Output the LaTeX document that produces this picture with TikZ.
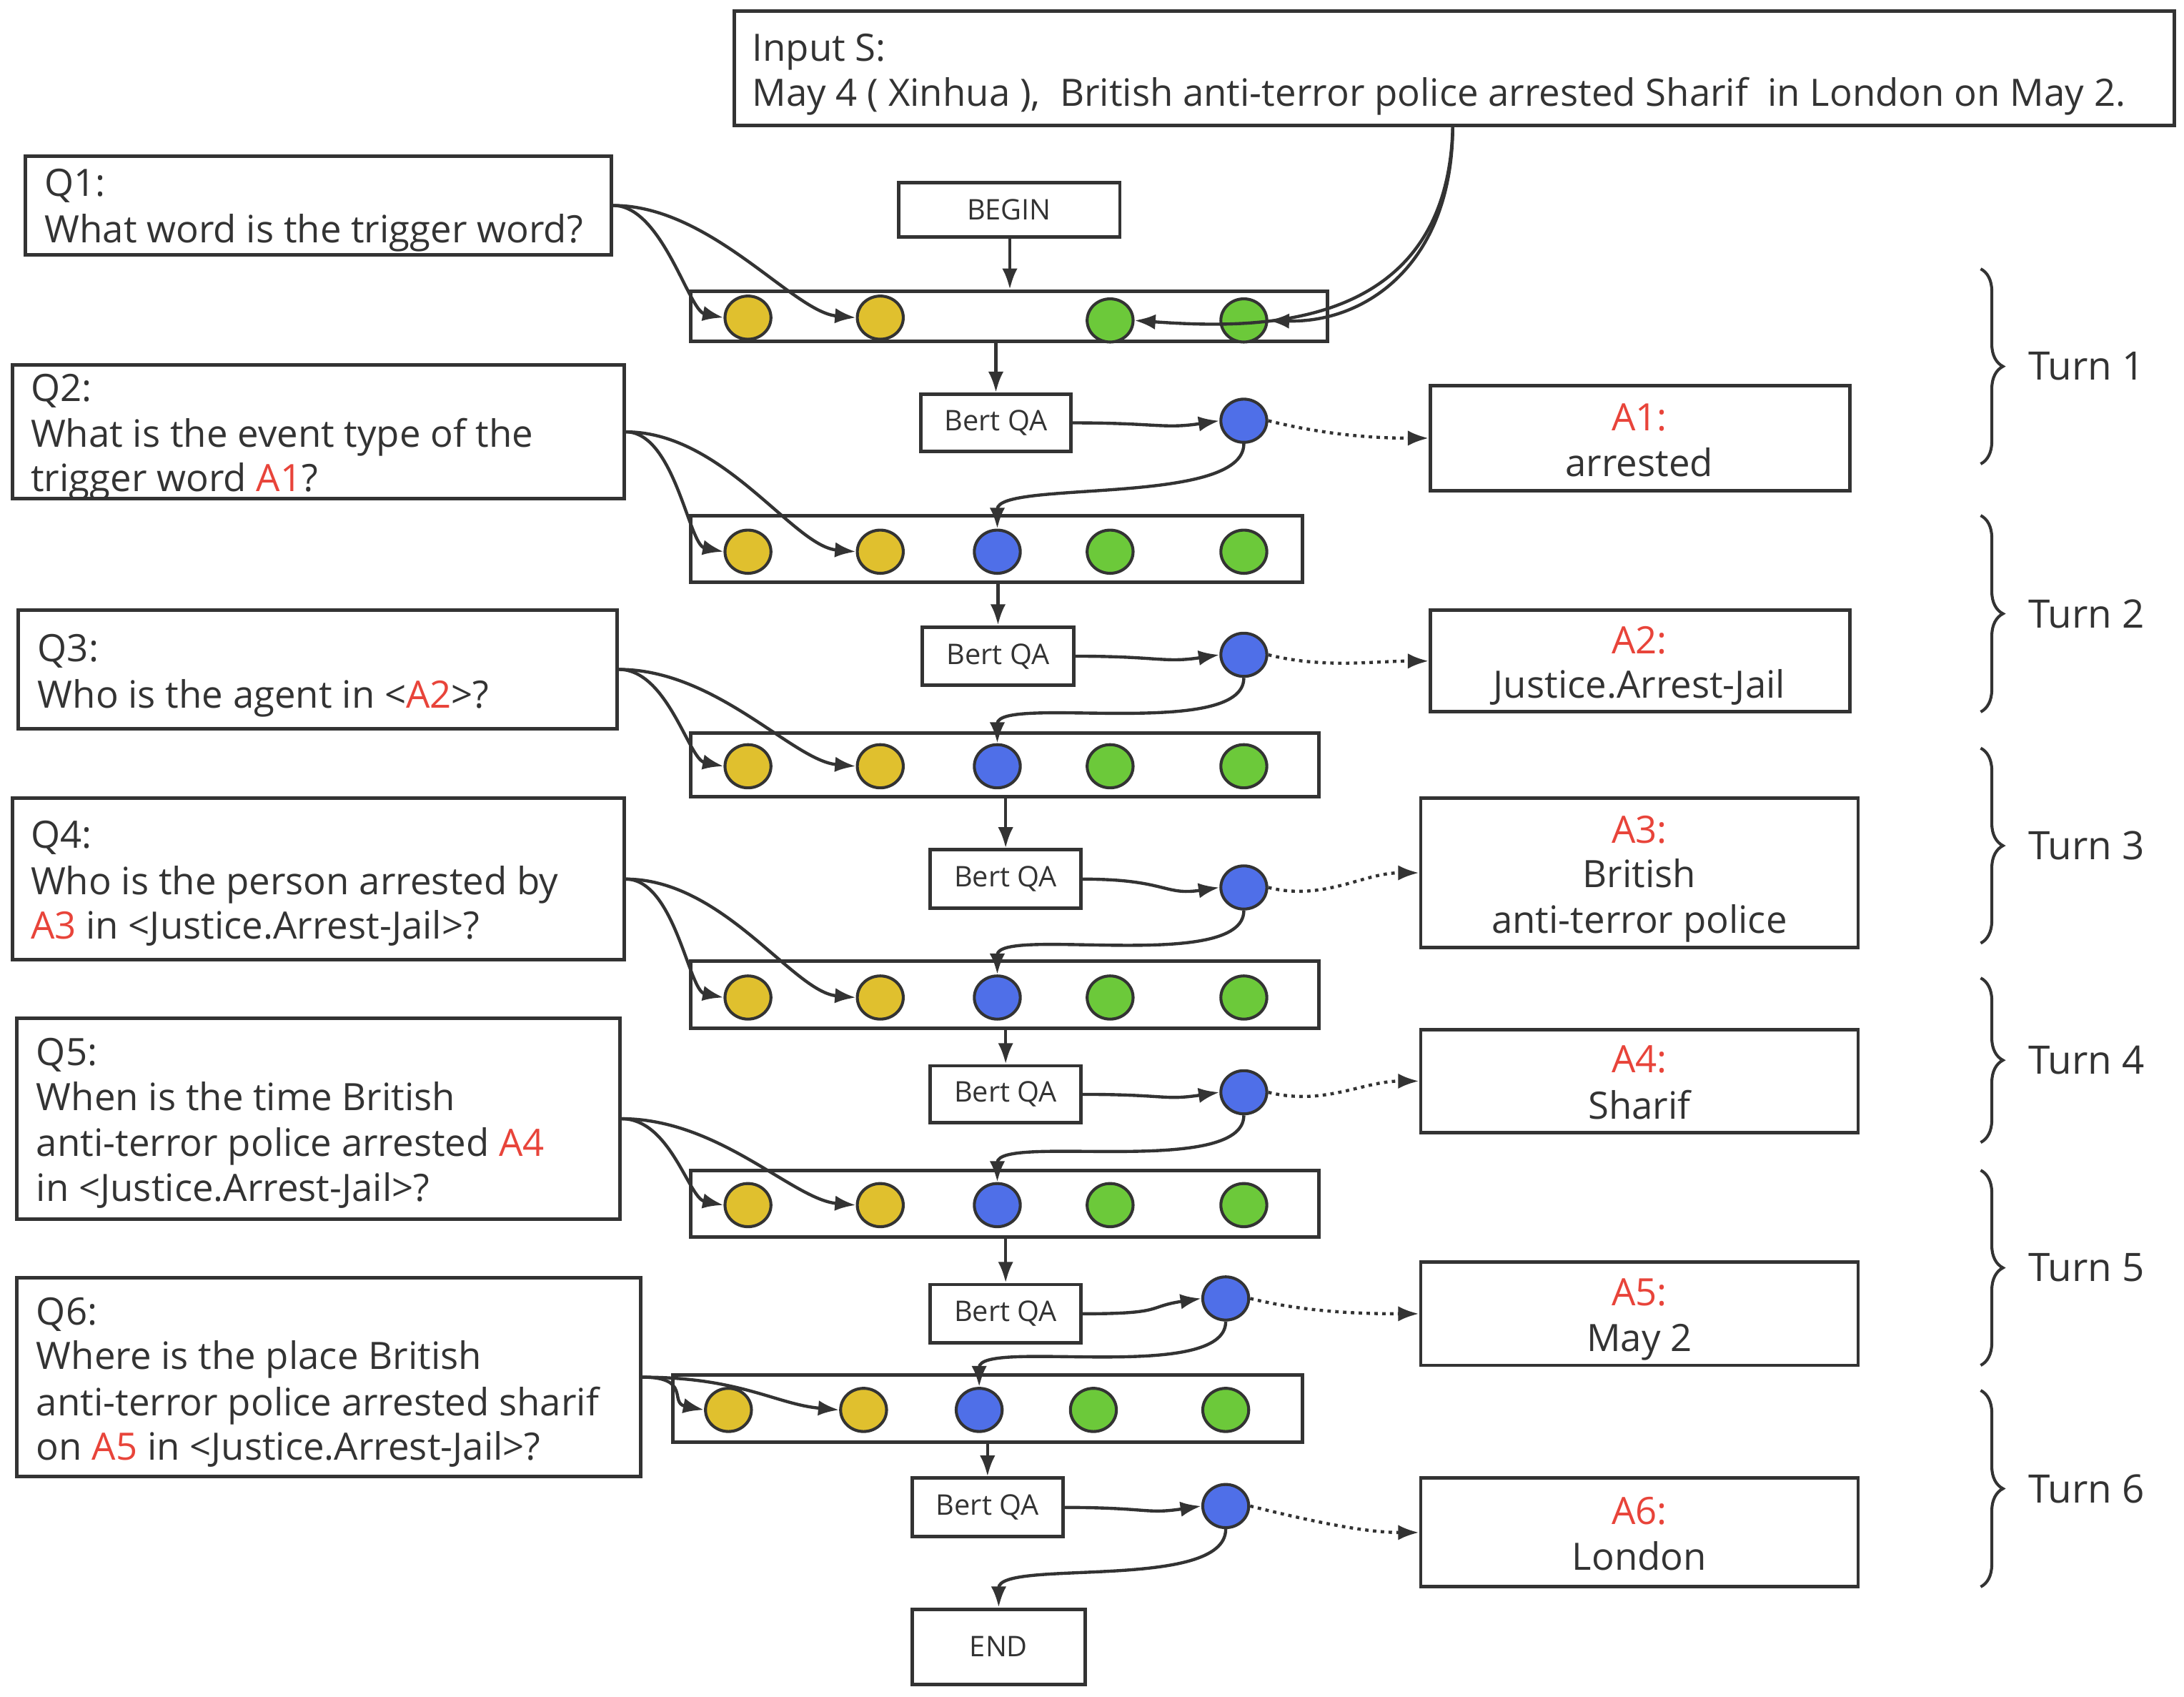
\documentclass[tikz,border=0pt]{standalone}
\usepackage{fontspec}
\setmainfont{Open Sans}
\usetikzlibrary{shapes.geometric,arrows.meta,decorations.pathreplacing}
\definecolor{cy}{HTML}{E0C02E}
\definecolor{cg}{HTML}{6CC93A}
\definecolor{cb}{HTML}{4F6FE8}
\definecolor{cr}{HTML}{E8443A}
\definecolor{ln}{HTML}{333333}
\newcommand\bx[5]{\node[box,minimum width={(#4-#2)*0.05cm},minimum height={(#5-#3)*0.05cm}] (#1) at ({(#2+#4)/2},{(#3+#5)/2}) {};}
\newcommand\tl[3]{\node[anchor=base west,inner sep=0] at (#1,#2) {#3};}
\newcommand\tc[3]{\node[anchor=base,inner sep=0] at (#1,#2) {#3};}
\newcommand\cdt[3]{\node[ell,fill=#1] (#2) at (#3) {};}
\begin{document}
\begin{tikzpicture}[x=0.05cm,y=-0.05cm,
  box/.style={draw=ln,line width=3.6pt,rectangle,inner sep=0},
  ell/.style={ellipse,draw=ln,line width=3pt,minimum width=1.65cm,minimum height=1.55cm,inner sep=0},
  con/.style={draw=ln,line width=3.2pt,-{Latex[length=0.75cm,width=0.55cm]}},
  dots/.style={draw=ln,line width=3.2pt,dash pattern=on 3.5pt off 4.5pt,-{Latex[length=0.75cm,width=0.55cm]}},
  every node/.style={font=\fontsize{38.5}{46}\selectfont,text=ln},
  sm/.style={font=\fontsize{29}{34}\selectfont}]
\useasboundingbox (0,0) rectangle (1568,1218);
% input
\bx{in}{527}{8}{1561}{90}
\tl{540}{44}{Input S:}
\tl{540}{76}{May 4 ( Xinhua ),\ \ British anti-terror police arrested Sharif\ \ in London on May 2.}
\coordinate (inb) at (1043,90);
% questions
\bx{q1}{18}{112}{439}{183}
\tl{32}{141}{Q1:}\tl{32}{174}{What word is the trigger word?}
\bx{q2}{9}{262}{448}{358}
\tl{22}{288}{Q2:}\tl{22}{321}{What is the event type of the}\tl{22}{353}{trigger word \textcolor{cr}{A1}?}
\bx{q3}{13}{438}{443}{523}
\tl{27}{475}{Q3:}\tl{27}{508}{Who is the agent in <\textcolor{cr}{A2}>?}
\bx{q4}{9}{573}{448}{689}
\tl{22}{609}{Q4:}\tl{22}{642}{Who is the person arrested by}\tl{22}{674}{\textcolor{cr}{A3} in <Justice.Arrest-Jail>?}
\bx{q5}{12}{731}{445}{875}
\tl{26}{765}{Q5:}\tl{26}{797}{When is the time British}\tl{26}{830}{anti-terror police arrested \textcolor{cr}{A4}}\tl{26}{862}{in <Justice.Arrest-Jail>?}
\bx{q6}{12}{917}{460}{1060}
\tl{26}{951}{Q6:}\tl{26}{983}{Where is the place British}\tl{26}{1016}{anti-terror police arrested sharif}\tl{26}{1048}{on \textcolor{cr}{A5} in <Justice.Arrest-Jail>?}
% answers
\bx{a1}{1027}{277}{1328}{352}
\tc{1177}{309}{\textcolor{cr}{A1:}}\tc{1177}{342}{arrested}
\bx{a2}{1027}{438}{1328}{511}
\tc{1177}{469}{\textcolor{cr}{A2:}}\tc{1177}{501}{Justice.Arrest-Jail}
\bx{a3}{1020}{573}{1334}{680}
\tc{1177}{605}{\textcolor{cr}{A3:}}\tc{1177}{637}{British}\tc{1177}{670}{anti-terror police}
\bx{a4}{1020}{739}{1334}{813}
\tc{1177}{770}{\textcolor{cr}{A4:}}\tc{1177}{803}{Sharif}
\bx{a5}{1020}{906}{1334}{980}
\tc{1177}{937}{\textcolor{cr}{A5:}}\tc{1177}{970}{May 2}
\bx{a6}{1020}{1061}{1334}{1139}
\tc{1177}{1094}{\textcolor{cr}{A6:}}\tc{1177}{1127}{London}
% begin/end
\node[box,sm,minimum width=7.95cm,minimum height=1.95cm] (begin) at (724.5,150.5) {BEGIN};
\node[box,sm,minimum width=6.2cm,minimum height=2.7cm] (end) at (717,1182) {END};
% bert boxes
\node[box,sm,minimum width=5.4cm,minimum height=2.05cm] (b1) at (715,303.5) {Bert QA};
\node[box,sm,minimum width=5.45cm,minimum height=2.1cm] (b2) at (716.5,471) {Bert QA};
\node[box,sm,minimum width=5.4cm,minimum height=2.1cm] (b3) at (722,631) {Bert QA};
\node[box,sm,minimum width=5.4cm,minimum height=2.05cm] (b4) at (722,785.5) {Bert QA};
\node[box,sm,minimum width=5.4cm,minimum height=2.1cm] (b5) at (722,943) {Bert QA};
\node[box,sm,minimum width=5.4cm,minimum height=2.1cm] (b6) at (709,1082) {Bert QA};
% rows
\bx{r1}{496}{209}{953}{245}
\bx{r2}{496}{370}{935}{418}
\bx{r3}{496}{526}{947}{572}
\bx{r4}{496}{690}{947}{738}
\bx{r5}{496}{840}{947}{888}
\bx{r6}{483}{987}{935}{1035}
\cdt{cy}{r1a}{537,228}\cdt{cy}{r1b}{632,228}\cdt{cg}{r1d}{797,230}\cdt{cg}{r1e}{893,230}
\foreach \r/\y in {2/396,3/550,4/716,5/865}{
 \cdt{cy}{r\r a}{537,\y}\cdt{cy}{r\r b}{632,\y}\cdt{cb}{r\r c}{716,\y}\cdt{cg}{r\r d}{797,\y}\cdt{cg}{r\r e}{893,\y}}
\cdt{cy}{r6a}{523,1012}\cdt{cy}{r6b}{620,1012}\cdt{cb}{r6c}{703,1012}\cdt{cg}{r6d}{785,1012}\cdt{cg}{r6e}{880,1012}
% blue outputs
\cdt{cb}{o1}{893,302}\cdt{cb}{o2}{893,470}\cdt{cb}{o3}{893,637}\cdt{cb}{o4}{893,784}\cdt{cb}{o5}{880,932}\cdt{cb}{o6}{880,1081}
% connectors
\draw[con] (begin.south -| 725,0) -- (r1.north -| 725,0);
\draw[con] (inb) .. controls (1043,190) and (980,232) .. (r1e.east);
\draw[con] (inb) .. controls (1040,240) and (900,236) .. (r1d.east);
\foreach \q/\r in {q1/r1,q2/r2,q3/r3,q4/r4,q5/r5,q6/r6}{
 \draw[con] (\q.east) .. controls +(35,0) and +(-25,-5) .. (\r a.west);
 \draw[con] (\q.east) .. controls +(70,0) and +(-45,-4) .. (\r b.west);}
\foreach \r/\b/\o/\a in {r1/b1/o1/a1,r2/b2/o2/a2,r3/b3/o3/a3,r4/b4/o4/a4,r5/b5/o5/a5,r6/b6/o6/a6}{
 \draw[con] (\r.south -| \b) -- (\b.north);
 \draw[con] (\b.east) .. controls +(60,0) and +(-40,6) .. (\o.west);
 \draw[dots] (\o.east) .. controls +(40,10) and +(-40,0) .. (\a.west);}
\foreach \o/\n in {o1/r2c,o2/r3c,o3/r4c,o4/r5c,o5/r6c,o6/end}{
 \draw[con] (\o.south) .. controls +(0,45) and +(0,-35) .. (\n.north);}
% braces
\foreach \ya/\yb/\t in {193/333/1,370/511/2,537/677/3,702/820/4,840/980/5,998/1139/6}{
 \draw[ln,line width=3pt,decorate,decoration={brace,amplitude=0.8cm}] (1422,\ya) -- (1422,\yb);
 \node[anchor=west,inner sep=0,font=\fontsize{40}{48}\selectfont] at (1456,{(\ya+\yb)/2}) {Turn \t};}
\end{tikzpicture}
\end{document}
